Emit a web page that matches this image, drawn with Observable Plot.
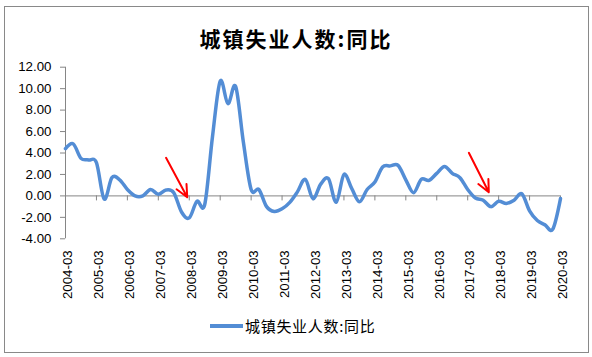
<!DOCTYPE html>
<html><head><meta charset="utf-8">
<script src="https://cdn.jsdelivr.net/npm/d3@7"></script>
<script src="https://cdn.jsdelivr.net/npm/@observablehq/plot@0.6"></script>
<style>
body{margin:0;background:#fff;}
#wrap{position:relative;width:592px;height:357px;overflow:hidden;background:#fff;}
#frame{position:absolute;left:4px;top:6px;width:585px;height:347px;border:1px solid #898989;box-sizing:border-box;}
#title{position:absolute;left:0;top:28px;width:592px;text-align:center;font-family:"Noto Sans CJK SC",sans-serif;font-weight:bold;font-size:21px;line-height:21px;letter-spacing:2px;color:#000;}
#chart{position:absolute;left:0;top:0;}
#legend{position:absolute;left:210px;top:318px;height:16px;display:flex;align-items:center;font-family:"Noto Sans CJK SC",sans-serif;font-size:15px;line-height:16px;letter-spacing:0.7px;color:#000;}
#legend .sw{width:33px;height:3.5px;background:#538DD5;margin-right:2px;}
</style></head><body>
<div id="wrap">
<div id="frame"></div>
<div id="title">城镇失业人数:同比</div>
<div id="chart"></div>
<div id="legend"><span class="sw"></span><span>城镇失业人数:同比</span></div>
</div>
<script>
const years = ["2004","2005","2006","2007","2008","2009","2010","2011","2012","2013","2014","2015","2016","2017","2018","2019","2020"];
const months = ["03","06","09","12"];
const quarters = years.flatMap(y => months.map(m => y + "-" + m)).slice(0, 65);
const values = [
  4.4, 4.85, 3.5, 3.35, 3.1, -0.3, 1.7, 1.5, 0.6, 0.0, 0.0, 0.6, 0.15, 0.55, 0.3, -1.5,
  -2.05, -0.5, -0.8, 5.5, 10.7, 8.6, 10.2, 5.0, 0.6, 0.6, -1.0, -1.45, -1.2, -0.6, 0.4, 1.55,
  -0.25, 1.1, 1.6, -0.6, 2.0, 0.7, -0.55, 0.6, 1.3, 2.7, 2.8, 2.85, 1.5, 0.3, 1.55, 1.45,
  2.1, 2.75, 2.1, 1.7, 0.6, -0.2, -0.4, -1.0, -0.5, -0.7, -0.4, 0.2, -1.4, -2.3, -2.7, -3.1,
  -0.25
];
const yearLabels = ["2004-03","2005-03","2006-03","2007-03","2008-03","2009-03","2010-03","2011-03","2012-03","2013-03","2014-03","2015-03","2016-03","2017-03","2018-03","2019-03","2020-03"];
const yTicks = [-4, -2, 0, 2, 4, 6, 8, 10, 12];
const arrows = [
  {x1: 13.0, y1: 3.55, x2: 15.74, y2: -0.13},
  {x1: 52.15, y1: 4.02, x2: 54.73, y2: 0.34}
];

const idx = values.map((d, i) => i);
const tickIdx = yearLabels.map(l => quarters.indexOf(l));
const axisColor = "#868686";

const chart = Plot.plot({
  width: 592,
  height: 310,
  marginLeft: 65,
  marginRight: 32,
  marginTop: 66.7,
  marginBottom: 71.7,
  x: {type: "linear", domain: [0, quarters.length - 1], axis: null},
  y: {domain: [-4, 12], axis: null},
  style: {fontFamily: "'Liberation Sans', Arial, sans-serif", fontSize: "13.3px", color: "#000", background: "transparent"},
  marks: [
    Plot.axisY({ticks: yTicks, tickFormat: d => d.toFixed(2), tickSize: 5, tickPadding: 9, stroke: axisColor, fill: "#000", fontSize: 13.3}),
    Plot.ruleX([0], {stroke: axisColor}),
    Plot.ruleY([0], {stroke: axisColor}),
    Plot.ruleX(tickIdx, {x: d => d, y1: 0, y2: 0, insetBottom: -5, stroke: axisColor}),
    Plot.text(tickIdx, {x: d => d, y: -4, text: d => quarters[d], rotate: -90, textAnchor: "end", lineAnchor: "middle", dy: 11.5, dx: 2.5, fontSize: 13.3, fill: "#000"}),
    Plot.line(idx, {x: i => i, y: i => values[i], curve: "cardinal", stroke: "#538DD5", strokeWidth: 3.5}),
    Plot.arrow(arrows, {x1: "x1", y1: "y1", x2: "x2", y2: "y2", stroke: "#FF0000", strokeWidth: 2, headLength: 10, headAngle: 50})
  ]
});
document.getElementById("chart").appendChild(chart);
</script>
</body></html>
